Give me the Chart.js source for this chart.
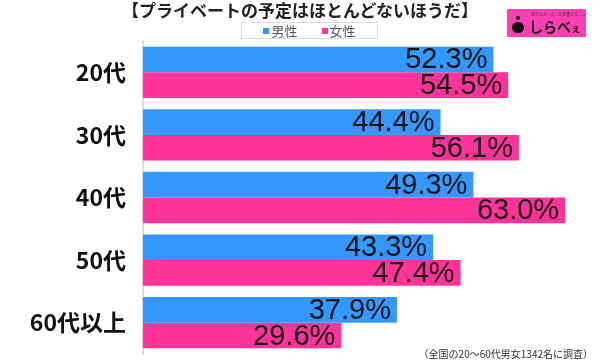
<!DOCTYPE html>
<html><head><meta charset="utf-8">
<script src="https://cdn.jsdelivr.net/npm/chart.js@4"></script>
<style>
html,body{margin:0;padding:0;background:#fff;overflow:hidden;}
#wrap{position:relative;width:600px;height:360px;font-family:"Noto Sans CJK JP","Noto Sans",sans-serif;}
#c{position:absolute;left:0;top:0;}
#title{position:absolute;left:0;width:600px;top:0px;text-align:center;font-size:17px;font-weight:bold;color:#222;line-height:20px;}
#legend{position:absolute;left:241px;top:22px;width:135px;height:15px;border:1px solid #ddd;display:flex;justify-content:center;align-items:center;font-size:13px;color:#555;line-height:15px;}
#legend span.it{display:flex;align-items:center;margin:0 12px;}
#legend i{display:inline-block;width:6px;height:6px;margin-right:2px;}
#note{position:absolute;right:7px;top:348px;font-size:10px;color:#333;line-height:12px;}
#logo{position:absolute;left:507px;top:9px;width:79px;height:28px;background:#ff40b4;overflow:hidden;}
#logo .small{position:absolute;left:24px;top:2px;font-size:4px;color:#333;white-space:nowrap;}
#logo .big{position:absolute;left:22px;top:8px;font-size:14px;font-weight:bold;color:#111;line-height:18px;white-space:nowrap;}
#logo .big small{font-size:10px;}
#logo .dot{position:absolute;left:9px;top:7px;width:4px;height:4px;border-radius:2px;background:#111;}
#logo .body{position:absolute;left:5px;top:13px;width:12px;height:11px;border-radius:6px;background:#111;}
</style></head>
<body>
<div id="wrap">
<canvas id="c" width="600" height="360"></canvas>
<div id="title">【プライベートの予定はほとんどないほうだ】</div>
<div id="legend"></div>
<div id="logo"><div class="small">知らなかった!?を調査するニュースサイト</div><div class="dot"></div><div class="body"></div><div class="big">しらべ<small>ぇ</small></div></div>
<div id="note">（全国の20〜60代男女1342名に調査）</div>
</div>
<script>
const categories = ["20代","30代","40代","50代","60代以上"];
const seriesNames = ["男性","女性"];
const male = [52.3, 44.4, 49.3, 43.3, 37.9];
const female = [54.5, 56.1, 63.0, 47.4, 29.6];
const colors = ["#3399ff","#ff3399"];

const lg = document.getElementById('legend');
seriesNames.forEach((n,i)=>{
  const s=document.createElement('span');s.className='it';
  s.innerHTML='<i style="background:'+colors[i]+'"></i>'+n;
  lg.appendChild(s);
});

const valueLabels = {
  id:'valueLabels',
  afterDatasetsDraw(chart){
    const ctx=chart.ctx;
    ctx.save();
    ctx.font='29px "Liberation Sans", Arial, sans-serif';
    ctx.fillStyle='#111';
    ctx.textAlign='right';
    ctx.textBaseline='middle';
    chart.data.datasets.forEach((ds,di)=>{
      const meta=chart.getDatasetMeta(di);
      meta.data.forEach((el,i)=>{
        ctx.fillText(ds.data[i].toFixed(1)+'%', el.x-6, el.y+1);
      });
    });
    ctx.restore();
  }
};

new Chart(document.getElementById('c'),{
  type:'bar',
  data:{
    labels:categories,
    datasets:[
      {label:seriesNames[0],data:male,backgroundColor:colors[0]},
      {label:seriesNames[1],data:female,backgroundColor:colors[1]}
    ]
  },
  options:{
    indexAxis:'y',
    responsive:false,
    animation:false,
    layout:{padding:{top:41,bottom:6,left:0,right:0}},
    datasets:{bar:{categoryPercentage:0.82,barPercentage:1.0}},
    plugins:{legend:{display:false},title:{display:false},tooltip:{enabled:false}},
    scales:{
      x:{display:false,min:0,max:68.2},
      y:{
        grid:{display:false,drawTicks:false},
        border:{display:true,color:'#dddddd',width:2},
        ticks:{color:'#111',padding:17,font:{size:23,weight:'bold',family:'"Noto Sans CJK JP", sans-serif'}},
        afterFit(s){s.width=143;s.paddingTop=0;s.paddingBottom=0;}
      }
    }
  },
  plugins:[valueLabels]
});
</script>
</body></html>
